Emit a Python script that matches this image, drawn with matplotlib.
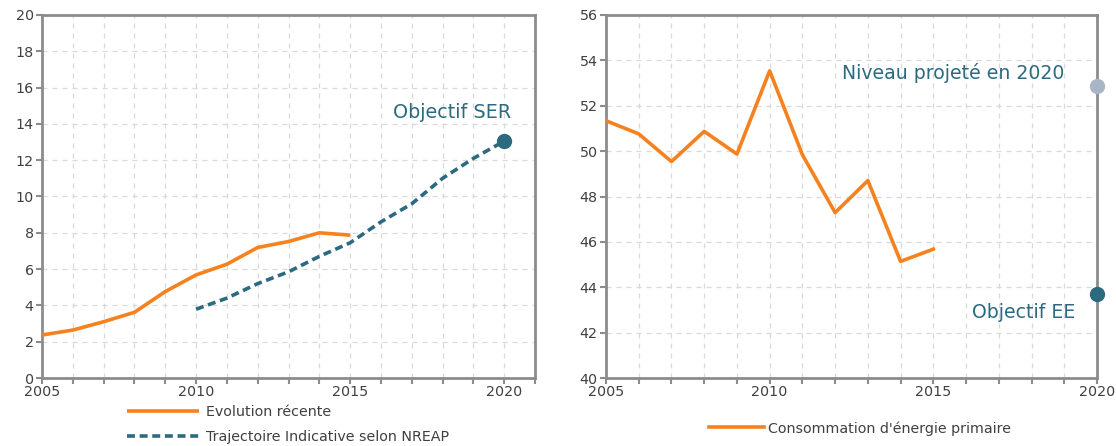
import matplotlib
matplotlib.use("Agg")
import matplotlib.pyplot as plt
from matplotlib.ticker import MultipleLocator

# ---- data ----
years_recent = [2005, 2006, 2007, 2008, 2009, 2010, 2011, 2012, 2013, 2014, 2015]
ser_recent = [2.37, 2.64, 3.1, 3.62, 4.76, 5.68, 6.27, 7.19, 7.52, 8.0, 7.87]
years_nreap = [2010, 2011, 2012, 2013, 2014, 2015, 2016, 2017, 2018, 2019, 2020]
ser_nreap = [3.79, 4.4, 5.2, 5.85, 6.7, 7.45, 8.6, 9.6, 11.0, 12.1, 13.05]
ser_target_year = 2020
ser_target = 13.05

years_conso = [2005, 2006, 2007, 2008, 2009, 2010, 2011, 2012, 2013, 2014, 2015]
conso = [51.34, 50.76, 49.54, 50.87, 49.87, 53.54, 49.84, 47.29, 48.7, 45.14, 45.68]
proj_2020 = 52.88
ee_target = 43.7

label_recent = "Evolution récente"
label_nreap = "Trajectoire Indicative selon NREAP"
label_conso = "Consommation d'énergie primaire"

ORANGE = "#F5821F"
TEAL = "#2C6A80"
GREYDOT = "#A8B5C5"
SPINE = "#8C8C8C"
TXT = "#404040"

plt.rcParams['font.family'] = ['DejaVu Sans']

W, H = 1116, 446
fig = plt.figure(figsize=(W / 100, H / 100), dpi=100)

def px_axes(l, r, t, b):
    return fig.add_axes([l / W, (H - b) / H, (r - l) / W, (b - t) / H])

ax1 = px_axes(42, 535, 15, 378)
ax2 = px_axes(606, 1097, 15, 378)

def style(ax, xmax, ymin, ymax):
    ax.set_xlim(2005, xmax)
    ax.set_ylim(ymin, ymax)
    ax.xaxis.set_major_locator(MultipleLocator(5))
    ax.xaxis.set_minor_locator(MultipleLocator(1))
    ax.yaxis.set_major_locator(MultipleLocator(2))
    ax.grid(which='both', color='#D9D9D9', linestyle=(0, (4, 4)), linewidth=0.9)
    ax.set_axisbelow(True)
    for s in ax.spines.values():
        s.set_color(SPINE)
        s.set_linewidth(2.0)
    ax.tick_params(which='both', direction='out', color=SPINE, width=1.5,
                   labelcolor=TXT, labelsize=10.3, pad=1)
    ax.tick_params(which='major', length=4)
    ax.tick_params(which='minor', length=4)
    ax.tick_params(axis='y', length=4, pad=2)

style(ax1, 2021, 0, 20)
style(ax2, 2020, 40, 56)

# left chart
ax1.plot(years_recent, ser_recent, color=ORANGE, lw=2.6, solid_capstyle='butt',
         label=label_recent, zorder=3)
ax1.plot(years_nreap, ser_nreap, color=TEAL, lw=2.6, linestyle=(0, (2.2, 1.3)),
         label=label_nreap, zorder=3)
ax1.plot([ser_target_year], [ser_target], 'o', color=TEAL, ms=10, zorder=4)
ax1.text(2018.3, 14.65, "Objectif SER", color=TEAL, fontsize=13.8,
         ha='center', va='center')

# right chart
ax2.plot(years_conso, conso, color=ORANGE, lw=2.6, label=label_conso, zorder=3)
ax2.plot([2020], [proj_2020], 'o', color=GREYDOT, ms=10, clip_on=False, zorder=5)
ax2.plot([2020], [ee_target], 'o', color=TEAL, ms=10, clip_on=False, zorder=5)
ax2.text(2019.0, 53.45, "Niveau projeté en 2020", color=TEAL, fontsize=13.6,
         ha='right', va='center')
ax2.text(2019.33, 42.9, "Objectif EE", color=TEAL, fontsize=13.6,
         ha='right', va='center')

leg1 = ax1.legend(loc='upper left', bbox_to_anchor=(127 / W, 1 - 405 / H),
                  bbox_transform=fig.transFigure, frameon=False, fontsize=10.3,
                  handlelength=5, handletextpad=0.5, labelspacing=0.8,
                  borderaxespad=0, borderpad=0)
for t in leg1.get_texts():
    t.set_color(TXT)
leg2 = ax2.legend(loc='upper center', bbox_to_anchor=(860 / W, 1 - 421 / H),
                  bbox_transform=fig.transFigure, frameon=False, fontsize=10.3,
                  handlelength=3.8, handletextpad=0.3, borderaxespad=0, borderpad=0)
for t in leg2.get_texts():
    t.set_color(TXT)

fig.savefig("out.png", dpi=100)
